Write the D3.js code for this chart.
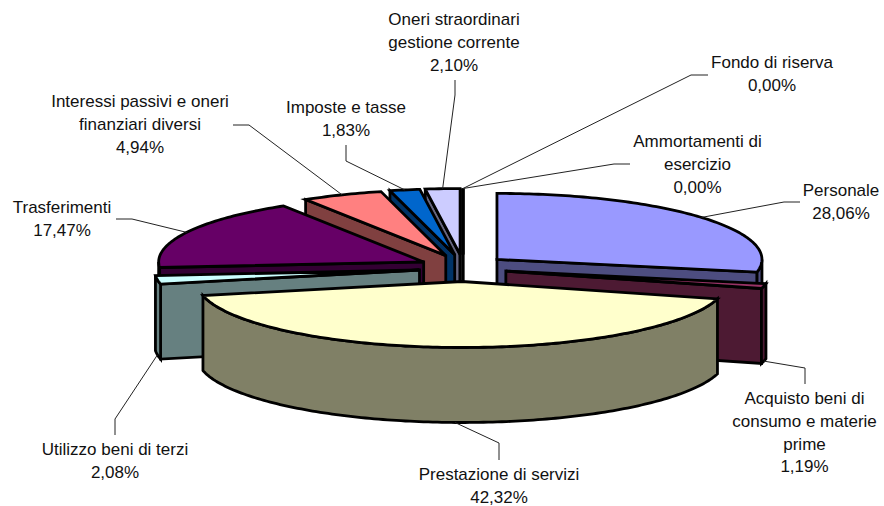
<!DOCTYPE html>
<html>
<head>
<meta charset="utf-8">
<script src="https://cdnjs.cloudflare.com/ajax/libs/d3/7.8.5/d3.min.js"></script>
<style>
	html, body { margin: 0; padding: 0; background: #fff; }
	svg { display: block; }
	text { font-family: "Liberation Sans", Arial, sans-serif; font-size: 17px; fill: #111; text-anchor: middle; }
</style>
</head>
<body>
<div id="chart"></div>
<script>
// data, in pie order (clockwise from 12 o'clock)
const categories = [
	'Personale',
	'Acquisto beni di consumo e materie prime',
	'Prestazione di servizi',
	'Utilizzo beni di terzi',
	'Trasferimenti',
	'Interessi passivi e oneri finanziari diversi',
	'Imposte e tasse',
	'Oneri straordinari gestione corrente',
	'Fondo di riserva',
	'Ammortamenti di esercizio',
];
const values = [28.06, 1.19, 42.32, 2.08, 17.47, 4.94, 1.83, 2.10, 0, 0];

// how the category names wrap
const labelLines = [
	['Personale'],
	['Acquisto beni di', 'consumo e materie', 'prime'],
	['Prestazione di servizi'],
	['Utilizzo beni di terzi'],
	['Trasferimenti'],
	['Interessi passivi e oneri', 'finanziari diversi'],
	['Imposte e tasse'],
	['Oneri straordinari', 'gestione corrente'],
	['Fondo di riserva'],
	['Ammortamenti di', 'esercizio'],
];

const topColors = ['#9999ff', '#993366', '#ffffcc', '#ccffff', '#660066', '#ff8080', '#0066cc', '#ccccff', '#000000', '#000000'];
const wallColors = ['#4d4d80', '#4d1a33', '#808066', '#668080', '#330033', '#804040', '#003366', '#666680', '#000000', '#000000'];

// layout
const width = 884, height = 506;
const center = { x: 463, y: 268 };
const radius = { x: 265, y: 66 };
const explode = { x: 44, y: 13.5 };
const depth = 75;
const lineHeight = 22.8;

// label anchor (centre x, first baseline) and the fixed part of each leader line
const labelLayout = [
	{ x: 841, y: 196, leader: [[800, 202], [784, 202]] },
	{ x: 804.5, y: 404, leader: [[805, 384], [805, 368]] },
	{ x: 499, y: 480, leader: [[499, 460], [499, 443]] },
	{ x: 115, y: 455, leader: [[115, 435], [115, 419]] },
	{ x: 62, y: 213, leader: [[116, 219], [132, 219]] },
	{ x: 140, y: 107, leader: [[233, 125], [249, 125]] },
	{ x: 346, y: 113, leader: [[346, 145], [346, 161]] },
	{ x: 454, y: 25, leader: [[455, 80], [455, 95]] },
	{ x: 772, y: 68, leader: [[708, 75], [691, 75]] },
	{ x: 697.5, y: 147, leader: [[630, 164], [614, 164]] },
];

const pct = v => v.toFixed(2).replace('.', ',') + '%';

// unit circle -> screen offsets
const rimX = d3.scaleLinear().domain([-1, 1]).range([-radius.x, radius.x]);
const rimY = d3.scaleLinear().domain([-1, 1]).range([-radius.y, radius.y]);
const explodeX = d3.scaleLinear().domain([-1, 1]).range([center.x - explode.x, center.x + explode.x]);
const explodeY = d3.scaleLinear().domain([-1, 1]).range([center.y - explode.y, center.y + explode.y]);

const pie = d3.pie().sort(null).value(d => d.value);
const slices = pie(categories.map((name, i) => ({ name, value: values[i], i }))).map(s => {
	const mid = (s.startAngle + s.endAngle) / 2;
	return {
		...s,
		mid,
		apex: [explodeX(Math.sin(mid)), explodeY(-Math.cos(mid))],
	};
});

const rimPoint = (s, a, down = 0) => [s.apex[0] + rimX(Math.sin(a)), s.apex[1] + rimY(-Math.cos(a)) + down];

const arcPoints = (s, a0, a1, down = 0) => {
	const step = Math.PI / 180;
	return d3.range(a0, a1, step).concat(a1).map(a => rimPoint(s, a, down));
};

const line = d3.line();
const closed = pts => line(pts) + 'Z';

const svg = d3.select('#chart').append('svg').attr('width', width).attr('height', height);

// back to front, slices further up the page go first
const ordered = slices.slice().sort((a, b) => d3.ascending(a.apex[1], b.apex[1]));

const sliceG = svg.selectAll('.slice')
	.data(ordered)
	.join('g')
	.attr('class', 'slice')
	.attr('stroke', '#000')
	.attr('stroke-width', 2.8)
	.attr('stroke-linejoin', 'miter');

// cut faces that look towards the viewer
const wallPath = (s, a) => {
	const apexDown = [s.apex[0], s.apex[1] + depth];
	return closed([rimPoint(s, a), s.apex, apexDown, rimPoint(s, a, depth)]);
};

sliceG.each(function (s) {
	const g = d3.select(this);
	const wall = wallColors[s.data.i];

	if (Math.sin(s.startAngle) < 0) {
		g.append('path').attr('fill', wall).attr('d', wallPath(s, s.startAngle));
	}
	if (Math.sin(s.endAngle) > 0) {
		g.append('path').attr('fill', wall).attr('d', wallPath(s, s.endAngle));
	}

	// outer rim, only the front half of the ellipse shows
	const a0 = Math.max(s.startAngle, Math.PI / 2);
	const a1 = Math.min(s.endAngle, Math.PI * 1.5);
	if (a1 > a0) {
		const upper = arcPoints(s, a0, a1);
		const lower = arcPoints(s, a0, a1, depth).reverse();
		g.append('path').attr('fill', wall).attr('d', closed(upper.concat(lower)));
	}

	// top face
	g.append('path')
		.attr('fill', topColors[s.data.i])
		.attr('d', closed([s.apex].concat(arcPoints(s, s.startAngle, s.endAngle))));
});

// leader lines end on the rim at the slice's mid angle
const leaderEnd = s => {
	const front = Math.cos(s.mid) < 0;
	return rimPoint(s, s.mid, front ? depth : 0);
};

svg.selectAll('.leader')
	.data(slices)
	.join('path')
	.attr('class', 'leader')
	.attr('fill', 'none')
	.attr('stroke', '#222')
	.attr('stroke-width', 1)
	.attr('d', s => line(labelLayout[s.data.i].leader.concat([leaderEnd(s)])));

// labels
const labels = svg.selectAll('.label')
	.data(slices)
	.join('text')
	.attr('class', 'label')
	.attr('transform', s => `translate(${labelLayout[s.data.i].x}, ${labelLayout[s.data.i].y})`);

labels.selectAll('tspan')
	.data(s => labelLines[s.data.i].concat(pct(s.data.value)))
	.join('tspan')
	.attr('x', 0)
	.attr('y', (_, i) => i * lineHeight)
	.text(d => d);
</script>
</body>
</html>
